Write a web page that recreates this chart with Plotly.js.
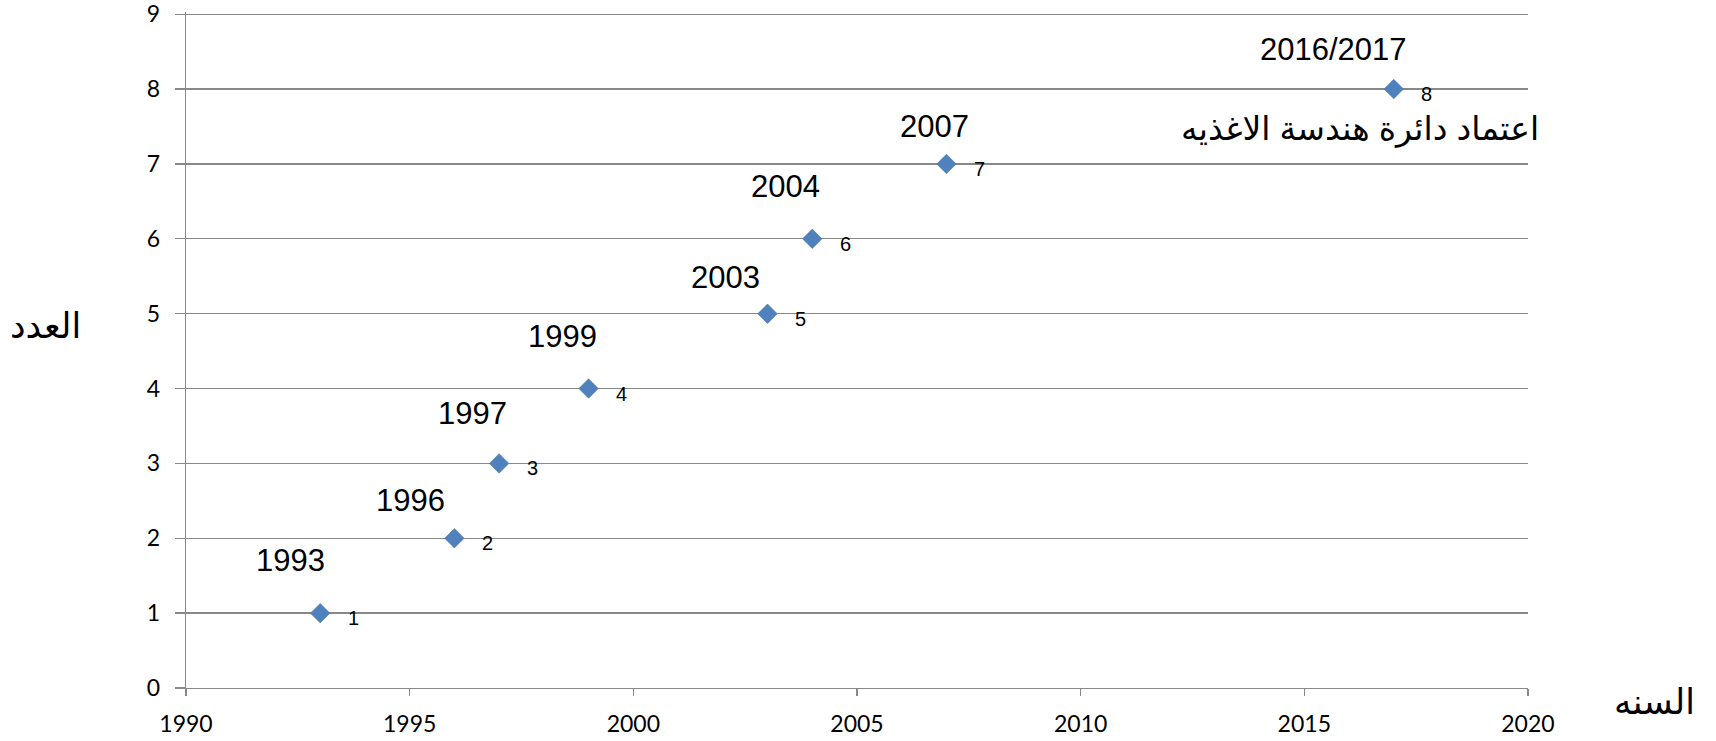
<!DOCTYPE html>
<html>
<head>
<meta charset="utf-8">
<script src="https://cdn.plot.ly/plotly-3.0.1.min.js"></script>
<style>html,body{margin:0;padding:0;background:#fff;}#chart{width:1716px;height:741px;}</style>
</head>
<body>
<div id="chart"></div>
<script>
// ---- data ----
var years = [1993, 1996, 1997, 1999, 2003, 2004, 2007, 2017];
var counts = [1, 2, 3, 4, 5, 6, 7, 8];
var yearLabels = ['1993', '1996', '1997', '1999', '2003', '2004', '2007', '2016/2017'];
var yTicks = [0, 1, 2, 3, 4, 5, 6, 7, 8, 9];
var xTicks = [1990, 1995, 2000, 2005, 2010, 2015, 2020];
var noteText = 'اعتماد دائرة هندسة الاغذيه';
var xTitle = 'السنه';
var yTitle = 'العدد';

// ---- styling (label offsets in pixels) ----
var yearOffsets = [[-30, 53], [-44, 38], [-27, 50], [-26, 52], [-42, 36], [-27, 52], [-12, 37], [-60, 40]];
var gridColor = '#888888';
var fontTick = 'Lato, "Open Sans", sans-serif';
var fontText = '"Liberation Sans", Arial, "DejaVu Sans", sans-serif';

var trace = {
  x: years,
  y: counts,
  type: 'scatter',
  mode: 'markers',
  marker: {symbol: 'diamond', size: 15, color: '#4F81BD', line: {color: '#3F6FA8', width: 0.5}},
  hoverinfo: 'x+y',
  cliponaxis: false
};

var annotations = [];
for (var i = 0; i < years.length; i++) {
  annotations.push({
    x: years[i], y: counts[i], xref: 'x', yref: 'y', showarrow: false,
    text: yearLabels[i], xanchor: 'center', yanchor: 'middle',
    xshift: yearOffsets[i][0], yshift: yearOffsets[i][1],
    font: {family: fontText, size: 31, color: '#000000'}
  });
  annotations.push({
    x: years[i], y: counts[i], xref: 'x', yref: 'y', showarrow: false,
    text: String(counts[i]), xanchor: 'center', yanchor: 'middle',
    xshift: 33, yshift: -5,
    font: {family: fontText, size: 20, color: '#000000'}
  });
}
var last = years.length - 1;
annotations.push({
  x: years[last], y: counts[last], xref: 'x', yref: 'y', showarrow: false,
  text: noteText, xanchor: 'center', yanchor: 'middle',
  xshift: -34, yshift: -40,
  font: {family: fontText, size: 33, color: '#000000'}
});
annotations.push({
  x: -0.105, y: 0.5356, xref: 'paper', yref: 'paper', showarrow: false,
  text: yTitle, xanchor: 'center', yanchor: 'middle',
  font: {family: fontText, size: 35, color: '#000000'}
});
annotations.push({
  x: 1.094, y: -0.0193, xref: 'paper', yref: 'paper', showarrow: false,
  text: xTitle, xanchor: 'center', yanchor: 'middle',
  font: {family: fontText, size: 35, color: '#000000'}
});

var layout = {
  width: 1716, height: 741,
  margin: {l: 186, r: 188, t: 12, b: 53, pad: 0},
  paper_bgcolor: '#ffffff', plot_bgcolor: '#ffffff',
  showlegend: false,
  xaxis: {
    range: [1990, 2020.001], tickmode: 'array', tickvals: xTicks,
    ticktext: xTicks.map(String),
    showgrid: false, zeroline: false,
    showline: true, linecolor: gridColor, linewidth: 1.3,
    ticks: 'outside', ticklen: 7, tickcolor: gridColor, tickwidth: 1.3,
    ticklabelstandoff: 8, ticklabeloverflow: 'allow',
    tickfont: {family: fontTick, size: 23, color: '#000000'},
    fixedrange: true
  },
  yaxis: {
    range: [0, 9.03], tickmode: 'array', tickvals: yTicks,
    ticktext: yTicks.map(String),
    showgrid: true, gridcolor: gridColor, gridwidth: 1.3,
    zeroline: false,
    showline: true, linecolor: gridColor, linewidth: 1.3,
    ticks: 'outside', ticklen: 10, tickcolor: gridColor, tickwidth: 1.3,
    ticklabelstandoff: 10, ticklabeloverflow: 'allow',
    tickfont: {family: fontTick, size: 23, color: '#000000'},
    fixedrange: true
  },
  annotations: annotations
};

Plotly.newPlot('chart', [trace], layout, {displayModeBar: false, staticPlot: true});
</script>
</body>
</html>
